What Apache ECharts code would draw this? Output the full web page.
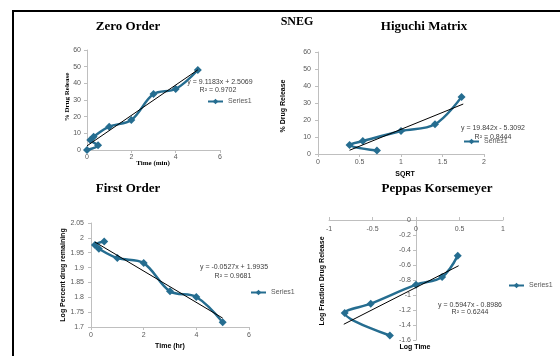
<!DOCTYPE html>
<html>
<head>
<meta charset="utf-8">
<script src="https://cdn.jsdelivr.net/npm/echarts@6/dist/echarts.min.js"></script>
<style>
html,body{margin:0;padding:0;background:#fff;}
#c{width:560px;height:356px;}
</style>
</head>
<body>
<div id="c"></div>
<script>
// ---- Data ----
const zeroTime = [0, 0.5, 0.15, 0.3, 1, 2, 3, 4, 5];
const zeroRelease = [0, 2.8, 6, 8, 14, 18, 33.6, 36.6, 48];
const zeroTrend = [[0, 2.5], [5, 48.1]];

const higSqrt = [0.71, 0.38, 0.54, 1, 1.41, 1.73];
const higRelease = [2.0, 5.3, 7.6, 13.5, 17.5, 33.6];
const higTrend = [[0.38, 2.2], [1.75, 29.4]];

const firstTime = [0.5, 0.15, 0.3, 1, 2, 3, 4, 5];
const firstLogRemain = [1.988, 1.976, 1.963, 1.932, 1.915, 1.82, 1.801, 1.716];
const firstTrend = [[0.15, 1.986], [5, 1.730]];

const peppasLogTime = [-0.3, -0.82, -0.52, 0, 0.3, 0.48];
const peppasLogFrac = [-1.54, -1.24, -1.116, -0.862, -0.76, -0.476];
const peppasTrend = [[-0.83, -1.39], [0.49, -0.61]];

const titles = ['Zero Order', 'Higuchi Matrix', 'First Order', 'Peppas Korsemeyer'];
const equations = ['y = 9.1183x + 2.5069', 'y = 19.842x - 5.3092', 'y = -0.0527x + 1.9935', 'y = 0.5947x - 0.8986'];
const r2s = ['R\u00B2 = 0.9702', 'R\u00B2 = 0.8444', 'R\u00B2 = 0.9681', 'R\u00B2 = 0.6244'];
const seriesName = 'Series1';

// ---- Styling ----
const C = '#256d90';
const SANS = "'Liberation Sans', Arial, sans-serif";
const SERIF = "'Liberation Serif', 'Times New Roman', serif";
const axisCol = '#bfbfbf';
const lblCol = '#595959';

function zip(xs, ys) { return xs.map((x, i) => [x, ys[i]]); }

function lbl(margin, extra) {
  return Object.assign({ color: lblCol, fontSize: 7, fontFamily: SANS, margin }, extra || {});
}
function xAx(grid, min, max, interval, extra) {
  return Object.assign({
    type: 'value', gridIndex: grid, min, max, interval,
    axisLine: { show: true, onZero: false, lineStyle: { color: axisCol, width: 1 } },
    axisTick: { show: true, length: 3, lineStyle: { color: axisCol } },
    axisLabel: lbl(4),
    splitLine: { show: false }
  }, extra || {});
}
function yAx(grid, min, max, interval, extra) {
  return Object.assign({
    type: 'value', gridIndex: grid, min, max, interval,
    axisLine: { show: true, onZero: false, lineStyle: { color: axisCol, width: 1 } },
    axisTick: { show: true, length: 3, lineStyle: { color: axisCol } },
    axisLabel: lbl(6),
    splitLine: { show: false }
  }, extra || {});
}
function dataSeries(i, data) {
  return {
    name: seriesName, type: 'line', xAxisIndex: i, yAxisIndex: i,
    data, smooth: 0.35, symbol: 'diamond', symbolSize: 8,
    lineStyle: { color: C, width: 2.5 }, itemStyle: { color: C },
    animation: false, z: 3
  };
}
function trendSeries(i, data) {
  return {
    name: 'trend', type: 'line', xAxisIndex: i, yAxisIndex: i,
    data, symbol: 'none', lineStyle: { color: '#000', width: 1 },
    animation: false, z: 4
  };
}
function legend(left, top) {
  return {
    data: [seriesName], left, top, padding: 0, itemWidth: 15, itemHeight: 7,
    selectedMode: false, textStyle: { fontSize: 7, color: lblCol, fontFamily: SANS }
  };
}
function txt(x, y, text, font, opts) {
  return Object.assign({
    type: 'text', x, y,
    style: Object.assign({ text, font, fill: '#000', align: 'center', verticalAlign: 'middle' }, (opts && opts.style) || {})
  }, (opts && opts.rotation) ? { rotation: opts.rotation } : {});
}

const chart = echarts.init(document.getElementById('c'), null, { renderer: 'canvas' });
chart.setOption({
  animation: false,
  backgroundColor: '#fff',
  grid: [
    { left: 87, top: 50, width: 133, height: 100 },
    { left: 318, top: 52, width: 166, height: 102 },
    { left: 91, top: 223, width: 158, height: 104 },
    { left: 329, top: 220, width: 174, height: 120 }
  ],
  xAxis: [
    xAx(0, 0, 6, 2),
    xAx(1, 0, 2, 0.5, { axisLabel: lbl(5) }),
    xAx(2, 0, 6, 2, { axisLabel: lbl(5) }),
    // Peppas: x axis runs along y = 0, which is the top of the plot
    xAx(3, -1, 1, 0.5, { position: 'top', axisLabel: lbl(6, { inside: true }) })
  ],
  yAxis: [
    yAx(0, 0, 60, 10),
    yAx(1, 0, 60, 10, { axisLabel: lbl(7) }),
    yAx(2, 1.7, 2.05, 0.05, { axisLabel: lbl(7) }),
    // Peppas: y axis runs along x = 0 (middle of the plot)
    yAx(3, -1.6, 0, 0.2, { position: 'left', offset: -87, axisLabel: lbl(5) })
  ],
  legend: [legend(207, 98), legend(463, 138), legend(250, 289), legend(508, 282)],
  series: [
    dataSeries(0, zip(zeroTime, zeroRelease)), trendSeries(0, zeroTrend),
    dataSeries(1, zip(higSqrt, higRelease)), trendSeries(1, higTrend),
    dataSeries(2, zip(firstTime, firstLogRemain)), trendSeries(2, firstTrend),
    dataSeries(3, zip(peppasLogTime, peppasLogFrac)), trendSeries(3, peppasTrend)
  ],
  graphic: [
    // frame
    { type: 'line', shape: { x1: 13, y1: 11, x2: 560, y2: 11 }, style: { stroke: '#000', lineWidth: 2 } },
    { type: 'line', shape: { x1: 13, y1: 10, x2: 13, y2: 356 }, style: { stroke: '#000', lineWidth: 2 } },
    // titles
    txt(297, 22, 'SNEG', 'bold 12px ' + SERIF),
    txt(128, 27, titles[0], 'bold 13px ' + SERIF),
    txt(424, 27, titles[1], 'bold 13px ' + SERIF),
    txt(128, 189, titles[2], 'bold 13px ' + SERIF),
    txt(437, 189, titles[3], 'bold 13px ' + SERIF),
    // axis names
    txt(67, 97, '% Drug Release', 'bold 7px ' + SERIF, { rotation: Math.PI / 2 }),
    txt(153, 163, 'Time (min)', 'bold 7px ' + SERIF),
    txt(283, 106, '% Drug Release', 'bold 7px ' + SANS, { rotation: Math.PI / 2 }),
    txt(405, 174, 'SQRT', 'bold 7px ' + SANS),
    txt(63, 275, 'Log Percent drug remaining', 'bold 7px ' + SANS, { rotation: Math.PI / 2 }),
    txt(170, 346, 'Time (hr)', 'bold 7px ' + SANS),
    txt(322, 281, 'Log Fraction Drug Release', 'bold 7px ' + SANS, { rotation: Math.PI / 2 }),
    txt(415, 347, 'Log Time', 'bold 7px ' + SANS),
    // equations
    txt(220, 82, equations[0], '7px ' + SANS, { style: { fill: '#404040' } }),
    txt(218, 90, r2s[0], '7px ' + SANS, { style: { fill: '#404040' } }),
    txt(493, 128, equations[1], '7px ' + SANS, { style: { fill: '#404040' } }),
    txt(493, 137, r2s[1], '7px ' + SANS, { style: { fill: '#404040' } }),
    txt(234, 267, equations[2], '7px ' + SANS, { style: { fill: '#404040' } }),
    txt(233, 276, r2s[2], '7px ' + SANS, { style: { fill: '#404040' } }),
    txt(470, 305, equations[3], '7px ' + SANS, { style: { fill: '#404040' } }),
    txt(470, 312, r2s[3], '7px ' + SANS, { style: { fill: '#404040' } })
  ]
});
</script>
</body>
</html>
